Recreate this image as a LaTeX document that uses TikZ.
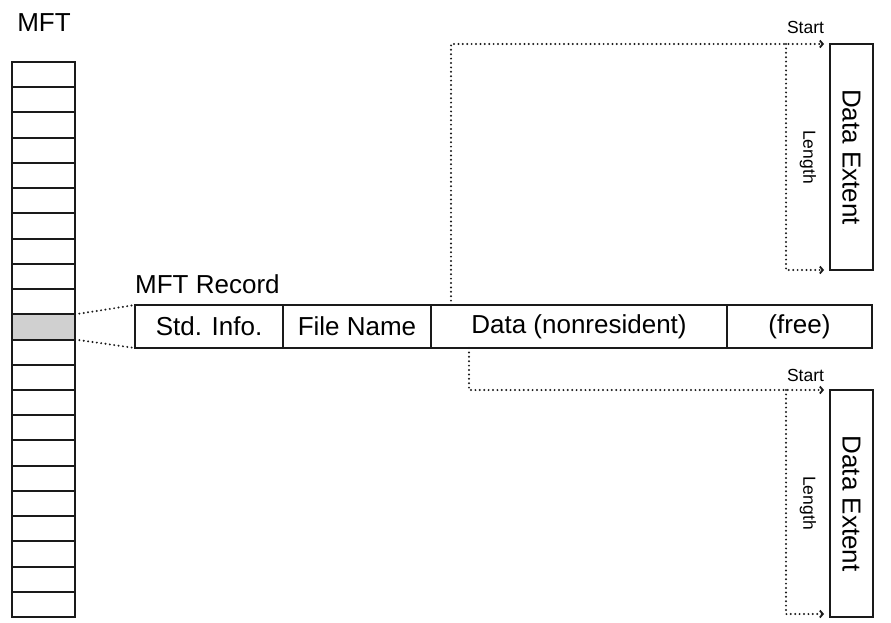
\documentclass[tikz,border=0pt]{standalone}
\usepackage{fontspec}
\setmainfont{Liberation Sans}
\usetikzlibrary{arrows.meta,calc}
\definecolor{linec}{HTML}{1A1A1A}
\definecolor{hlfill}{HTML}{D0D0D0}
\begin{document}
\begin{tikzpicture}[x=1pt,y=-1pt,
  mftcell/.style={draw=linec, line width=2pt, minimum width=63pt, minimum height=25.23pt, inner sep=0pt, outer sep=0pt},
  reccell/.style={draw=linec, line width=2pt, minimum height=43pt, inner sep=0pt, outer sep=0pt, font=\fontsize{26}{30}\selectfont},
  extbox/.style={draw=linec, line width=2pt, minimum width=43pt, inner sep=0pt, outer sep=0pt},
  biglabel/.style={font=\fontsize{26}{30}\selectfont, inner sep=0pt},
  extlabel/.style={font=\fontsize{26}{30}\selectfont, inner sep=0pt, rotate=-90},
  smalllabel/.style={font=\fontsize{17.5}{20}\selectfont, inner sep=0pt},
  dotline/.style={draw=linec, line width=2.2pt, line cap=round, dash pattern=on 0pt off 4.4pt},
  arr/.style={-{Straight Barb[length=3pt,width=7pt,line width=1.8pt]}}
]
\useasboundingbox (0,0) rectangle (891,622);
% MFT column
\node[biglabel] (mftlabel) at (44,23) {MFT};
\foreach \i in {0,...,21}{
  \node[mftcell] (m\i) at (43.5,{62+25.23*\i+12.615}) {};
}
\node[mftcell, fill=hlfill] (m10) at (43.5,{62+25.23*10+12.615}) {};
% MFT record
\node[biglabel, anchor=west] (reclabel) at (135,284) {MFT Record};
\node[reccell, minimum width=148pt] (std) at (209,326.5) {Std. Info.};
\node[reccell, minimum width=148pt] (fname) at (357,326.5) {File Name};
\node[reccell, minimum width=296pt] (data) at (579,326.5) {Data (nonresident)};
\node[reccell, minimum width=145pt] (free) at (799.5,326.5) {(free)};
% zoom lines
\draw[dotline] (m10.north east) -- (std.north west);
\draw[dotline] (m10.south east) -- (std.south west);
% extents
\node[extbox, minimum height=226pt] (ext1) at (851.5,157) {};
\node[extlabel] (ext1text) at (ext1.center) {Data Extent};
\node[extbox, minimum height=227pt] (ext2) at (851.5,503.5) {};
\node[extlabel] (ext2text) at (ext2.center) {Data Extent};
% coordinates
\coordinate (d1) at ($(data.north west)+(20,0)$);
\coordinate (d2) at ($(data.south west)+(38,0)$);
\coordinate (s1) at ($(ext1.north west)+(-6,0)$);
\coordinate (e1) at ($(ext1.south west)+(-6,0)$);
\coordinate (s2) at ($(ext2.north west)+(-6,0)$);
\coordinate (e2) at ($(ext2.south west)+(-6,-3)$);
\coordinate (l1) at ($(ext1.north west)+(-44,0)$);
\coordinate (l2) at ($(ext2.north west)+(-44,0)$);
% connectors
\draw[dotline, arr] (d1) |- (s1);
\draw[dotline, arr] (l1) |- (e1);
\draw[dotline, arr] (d2) |- (s2);
\draw[dotline, arr] (l2) |- (e2);
% labels
\node[smalllabel] (start1) at (805.5,27) {Start};
\node[smalllabel] (start2) at (805.5,375) {Start};
\node[smalllabel, rotate=-90] (len1) at (808,157) {Length};
\node[smalllabel, rotate=-90] (len2) at (808,503) {Length};
\end{tikzpicture}
\end{document}
